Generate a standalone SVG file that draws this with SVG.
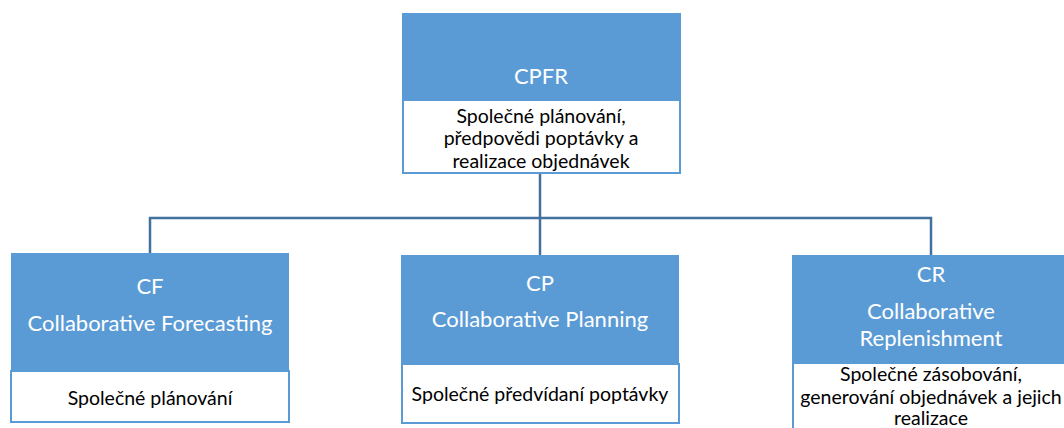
<svg xmlns="http://www.w3.org/2000/svg" width="1064" height="428" viewBox="0 0 1064 428">
<style>
.blue{fill:#5B9BD5;}
.wbox{fill:#FFFFFF;stroke:#5B9BD5;stroke-width:2;}
.t1{font-family:Lato,"Liberation Sans",sans-serif;font-size:22px;fill:#FFFFFF;text-anchor:middle;dominant-baseline:central;}
.t2{font-family:Lato,"Liberation Sans",sans-serif;font-size:19.5px;fill:#000000;text-anchor:middle;dominant-baseline:central;}
.conn{fill:none;stroke:#41719C;stroke-width:2.5;}
</style>
<rect width="1064" height="428" fill="#FFFFFF"/>
<g id="connectors">
<path class="conn" d="M540 173 V218"/>
<path class="conn" d="M150 253 V218 H931 V255"/>
<path class="conn" d="M540 218 V255"/>
</g>
<g id="cpfr">
<rect class="blue" x="402" y="13" width="279" height="142"/>
<text class="t1" x="541" y="75">CPFR</text>
<rect class="wbox" x="403" y="100" width="277" height="73"/>
<text class="t2" x="541" y="115">Společné plánování,</text>
<text class="t2" x="541" y="137">předpovědi poptávky a</text>
<text class="t2" x="541" y="160">realizace objednávek</text>
</g>
<g id="cf">
<rect class="blue" x="11" y="253" width="278" height="120"/>
<text class="t1" x="150" y="285">CF</text>
<text class="t1" x="150" y="322">Collaborative Forecasting</text>
<rect class="wbox" x="11" y="371" width="278" height="51"/>
<text class="t2" x="150" y="397">Společné plánování</text>
</g>
<g id="cp">
<rect class="blue" x="401" y="255" width="278" height="110"/>
<text class="t1" x="540" y="282">CP</text>
<text class="t1" x="540" y="318">Collaborative Planning</text>
<rect class="wbox" x="402" y="364" width="277" height="59"/>
<text class="t2" x="540" y="393">Společné předvídaní poptávky</text>
</g>
<g id="cr">
<rect class="blue" x="792" y="255" width="278" height="110"/>
<text class="t1" x="931" y="273">CR</text>
<text class="t1" x="931" y="310">Collaborative</text>
<text class="t1" x="931" y="337">Replenishment</text>
<rect class="wbox" x="793" y="363" width="280" height="70"/>
<text class="t2" x="931" y="373">Společné zásobování,</text>
<text class="t2" x="931" y="396">generování objednávek a jejich</text>
<text class="t2" x="931" y="417">realizace</text>
</g>
</svg>
